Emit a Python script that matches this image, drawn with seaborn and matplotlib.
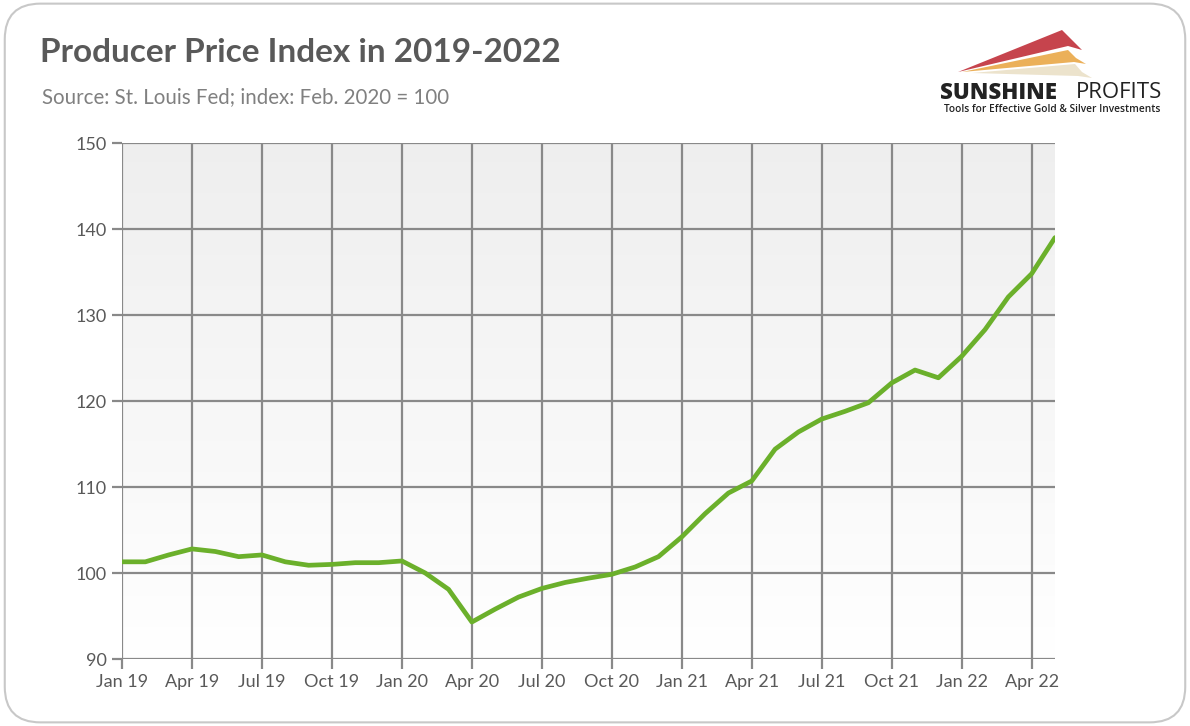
import numpy as np
import pandas as pd
import matplotlib
matplotlib.use("Agg")
import matplotlib.pyplot as plt
import seaborn as sns
from matplotlib.patches import FancyBboxPatch, Polygon

months = ["Jan 19", "Feb 19", "Mar 19", "Apr 19", "May 19", "Jun 19", "Jul 19", "Aug 19",
          "Sep 19", "Oct 19", "Nov 19", "Dec 19", "Jan 20", "Feb 20", "Mar 20", "Apr 20",
          "May 20", "Jun 20", "Jul 20", "Aug 20", "Sep 20", "Oct 20", "Nov 20", "Dec 20",
          "Jan 21", "Feb 21", "Mar 21", "Apr 21", "May 21", "Jun 21", "Jul 21", "Aug 21",
          "Sep 21", "Oct 21", "Nov 21", "Dec 21", "Jan 22", "Feb 22", "Mar 22", "Apr 22",
          "May 22"]
ppi = [101.3, 101.3, 102.1, 102.8, 102.5, 101.9, 102.1, 101.3, 100.9, 101.0, 101.2, 101.2,
       101.4, 100.0, 98.1, 94.3, 95.8, 97.2, 98.2, 98.9, 99.4, 99.85, 100.7, 101.9,
       104.2, 106.9, 109.3, 110.7, 114.4, 116.4, 117.9, 118.8, 119.8, 122.1, 123.6, 122.7,
       125.2, 128.3, 132.1, 134.8, 139.0]
tick_labels = ["Jan 19", "Apr 19", "Jul 19", "Oct 19", "Jan 20", "Apr 20", "Jul 20",
               "Oct 20", "Jan 21", "Apr 21", "Jul 21", "Oct 21", "Jan 22", "Apr 22"]
y_ticks = [90, 100, 110, 120, 130, 140, 150]

df = pd.DataFrame({"idx": np.arange(len(months)), "month": months, "ppi": ppi})

sns.set_theme(style="white")
plt.rcParams["font.family"] = ["Lato", "DejaVu Sans"]

fig = plt.figure(figsize=(11.9, 7.26), dpi=100)
fig.patch.set_facecolor("white")
border = FancyBboxPatch((0.004, 0.005), 0.992, 0.99, boxstyle="round,pad=0,rounding_size=0.03",
                        transform=fig.transFigure, facecolor="none", edgecolor="#c8c8c8",
                        linewidth=1.5, mutation_aspect=1190 / 726, zorder=10)
fig.patches.append(border)

ax = fig.add_axes([122 / 1190, 1 - 659 / 726, (1055 - 122) / 1190, (659 - 143) / 726])
ax.set_facecolor("none")

grad = np.linspace(0.935, 1.0, 256).reshape(-1, 1)
ax.imshow(np.dstack([grad, grad, grad]), extent=[0, 1, 0, 1], transform=ax.transAxes,
          aspect="auto", origin="upper", zorder=0, interpolation="bilinear")

sns.lineplot(data=df, x="idx", y="ppi", ax=ax, color="#6bb02b", linewidth=3.4, zorder=3)

ax.set_xlim(0, len(months) - 1)
ax.set_ylim(90, 150)
xt = list(range(0, len(months), 3))
ax.set_xticks(xt)
ax.set_xticklabels(tick_labels)
ax.set_yticks(y_ticks)
ax.set_yticklabels([str(v) for v in y_ticks])
ax.grid(True, color="#898989", linewidth=1.6, zorder=1)
ax.set_axisbelow(True)
for s in ax.spines.values():
    s.set_visible(False)
ax.tick_params(axis="x", length=7, width=1.6, color="#898989", pad=4,
               labelsize=13, labelcolor="#595959", bottom=True)
ax.tick_params(axis="y", length=7, width=1.6, color="#898989", pad=4,
               labelsize=13, labelcolor="#595959", left=True)
ax.set_xlabel("")
ax.set_ylabel("")

fig.text(40 / 1190, 1 - 53 / 726, "Producer Price Index in 2019-2022", fontsize=24,
         fontweight="bold", color="#595959", va="center", ha="left")
fig.text(42 / 1190, 1 - 97 / 726, "Source: St. Louis Fed; index: Feb. 2020 = 100", fontsize=14.8,
         color="#808080", va="center", ha="left")

# logo
def P(x, y):
    return (x / 1190, 1 - y / 726)

for pts, col, a in [
    ([P(958, 72), P(1062, 30), P(1072, 40), P(1082, 50), P(1068, 46)], "#c0303a", 0.9),
    ([P(962, 72), P(1068, 50), P(1076, 58), P(1086, 64), P(1074, 62)], "#e8a23c", 0.85),
    ([P(972, 73), P(1075, 64), P(1082, 72), P(1092, 78), P(1078, 76)], "#e8dcc0", 0.8),
]:
    fig.patches.append(Polygon(pts, closed=True, transform=fig.transFigure,
                               facecolor=col, edgecolor="none", alpha=a))

fig.text(940 / 1190, 1 - 93 / 726, "SUNSHINE", fontsize=16, fontweight="heavy",
         color="#222222", va="center", ha="left", family=["Open Sans", "DejaVu Sans"])
fig.text(1076 / 1190, 1 - 93 / 726, "PROFITS", fontsize=16, color="#222222",
         va="center", ha="left", family=["Open Sans", "DejaVu Sans"])
fig.text(944 / 1190, 1 - 110 / 726, "Tools for Effective Gold & Silver Investments", fontsize=7.3,
         color="#222222", va="center", ha="left", fontweight="semibold",
         family=["Open Sans", "DejaVu Sans"])

fig.savefig("out.png", dpi=100)
